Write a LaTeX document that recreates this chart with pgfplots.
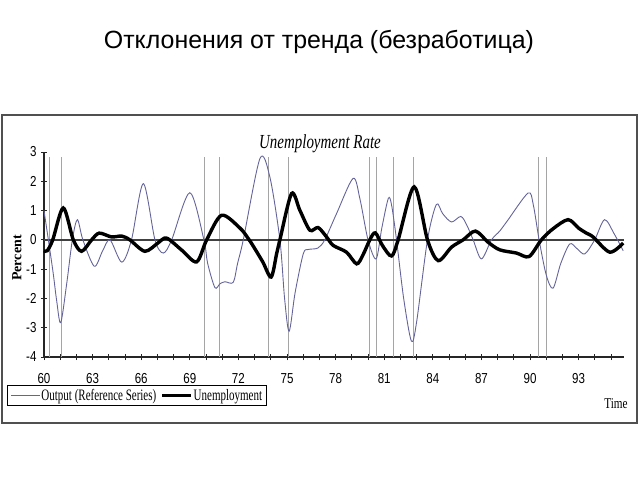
\documentclass[border=0pt]{standalone}
\usepackage{pgfplots}
\pgfplotsset{compat=1.18}
\usepackage{fontspec}
\setmainfont{Liberation Serif}
\newfontfamily\titlefont{Liberation Sans}
\newfontfamily\tickfont[FakeStretch=0.8]{Liberation Sans}
\newfontfamily\serifc[FakeStretch=0.75]{Liberation Serif}
\newfontfamily\legfont[FakeStretch=0.69]{Liberation Serif}
\definecolor{outc}{RGB}{100,100,155}
\definecolor{recc}{RGB}{165,165,165}
\definecolor{framec}{RGB}{80,80,80}
\begin{document}
\begin{tikzpicture}
\useasboundingbox (0,0) rectangle (640bp,-480bp);
\node[font=\titlefont\fontsize{25}{28}\selectfont, anchor=base, inner sep=0] at (319bp,-48bp) {Отклонения от тренда (безработица)};
\draw[framec, line width=1.6bp] (2bp,-115bp) rectangle (637bp,-423bp);
\node[font=\serifc\itshape\fontsize{20}{20}\selectfont, anchor=base, inner sep=0] at (320bp,-148bp) {Unemployment Rate};
\node[font=\fontsize{14}{14}\selectfont\bfseries, rotate=90, inner sep=0] at (17bp,-258bp) {Percent};
\node[font=\serifc\fontsize{15}{15}\selectfont, anchor=base, inner sep=0] at (616bp,-408bp) {Time};
\begin{axis}[
  at={(44bp,-357bp)}, anchor=south west,
  scale only axis, width=580bp, height=205bp,
  xmin=60, xmax=95.8, ymin=-4, ymax=3,
  axis lines*=left,
  axis line style={line width=1.2bp, black!85},
  xtick={60,63,...,93}, minor xtick={61,62,...,95},
  ytick={-4,-3,...,3},
  tick align=center, major tick length=6bp, minor tick length=6bp,
  tick style={line width=0.9bp, black!85},
  every tick label/.append style={font=\tickfont\fontsize{14.5}{14.5}\selectfont},
  /pgf/number format/assume math mode=true,
  xticklabel style={yshift=-10bp},
  yticklabel style={xshift=-1bp},
  clip=false,
  legend style={at={(-0.0638,-0.1366)}, anchor=north west, draw=black, line width=1.2bp,
    inner xsep=3bp, inner ysep=1bp, legend columns=2,
    font=\legfont\fontsize{16}{16}\selectfont,
    /tikz/every even column/.append style={column sep=3bp},
    nodes={inner xsep=1bp, inner ysep=2.5bp}},
  legend cell align=left,
  legend image code/.code={\draw[#1] (0bp,0bp) -- (29bp,0bp);},
]
\pgfplotsinvokeforeach{60.33,61.11,69.91,70.86,73.84,75.10,80.11,80.54,81.57,82.78,90.54,91.01}{
  \addplot[recc, line width=1bp, forget plot] coordinates {(#1,-4) (#1,2.83)};
}
\addplot[black!75, line width=1.4bp, forget plot] coordinates {(60,0) (95.8,0)};
\addplot[outc, line width=0.9bp, smooth, tension=0.5] coordinates {
(60.0,1.0) (60.27,0) (60.57,-1.15) (60.78,-2.07) (61.03,-2.83) (61.4,-1.5) (61.75,0) (62.06,0.69)
(62.4,0) (63.1,-0.9) (63.6,-0.4) (64.07,0) (64.8,-0.76) (65.4,0) (66.13,1.92) (66.85,0)
(67.36,-0.45) (67.88,0) (69.0,1.61) (69.87,0) (70.1,-0.8) (70.55,-1.63) (70.86,-1.5)
(71.17,-1.43) (71.68,-1.45) (71.95,-0.8) (72.3,0) (73.33,2.78) (73.94,2.15) (74.56,0)
(74.85,-2.0) (75.13,-3.12) (75.5,-1.8) (76.0,-0.48) (76.3,-0.33) (76.9,-0.28) (77.33,0)
(78.06,0.9) (79.08,2.1) (79.5,1.4) (80.0,0) (80.5,-0.65) (80.85,0.4) (81.25,1.41) (81.45,1.2)
(81.76,0) (82.2,-2.0) (82.68,-3.46) (83.0,-2.8) (83.67,0) (84.22,1.21) (84.6,0.9) (85.15,0.61)
(85.73,0.8) (86.1,0.5) (86.49,0) (87.0,-0.65) (87.62,0) (88.13,0.3) (88.6,0.65) (89.88,1.6)
(90.2,1.2) (90.56,0) (91.0,-1.2) (91.42,-1.65) (91.9,-0.8) (92.45,-0.14) (92.9,-0.3)
(93.38,-0.48) (93.99,0) (94.6,0.69) (95.2,0.2) (95.75,-0.37)
};
\addlegendentry{Output (Reference Series)}
\addplot[black, line width=3.4bp, smooth, tension=0.5] coordinates {
(60.0,-0.37) (60.2,-0.37) (60.54,0) (61.19,1.09) (61.81,0) (62.32,-0.39) (62.94,0) (63.41,0.23)
(64.17,0.1) (64.8,0.13) (65.3,0) (66.23,-0.39) (67.05,-0.1) (67.57,0.06) (68.5,-0.35) (69.42,-0.75)
(70.04,0) (70.96,0.84) (72.1,0.4) (72.6,0.05) (72.9,-0.2) (73.5,-0.75) (74.02,-1.27) (74.36,-0.47)
(74.56,0) (75.28,1.58) (75.8,1.0) (76.41,0.33) (76.92,0.42) (77.44,0.1) (77.85,-0.19)
(78.67,-0.42) (79.3,-0.82) (79.7,-0.5) (80.11,0) (80.45,0.24) (80.9,-0.2) (81.45,-0.55) (81.86,0)
(82.85,1.81) (83.67,0) (84.33,-0.71) (85.15,-0.25) (85.87,0.0) (86.63,0.3) (87.41,-0.08)
(88.13,-0.34) (89.16,-0.45) (89.94,-0.57) (90.7,0) (91.42,0.38) (92.35,0.69) (93.0,0.4)
(93.48,0.23) (93.89,0.1) (94.92,-0.42) (95.75,-0.11)
};
\addlegendentry{Unemployment}
\end{axis}
\end{tikzpicture}
\end{document}
